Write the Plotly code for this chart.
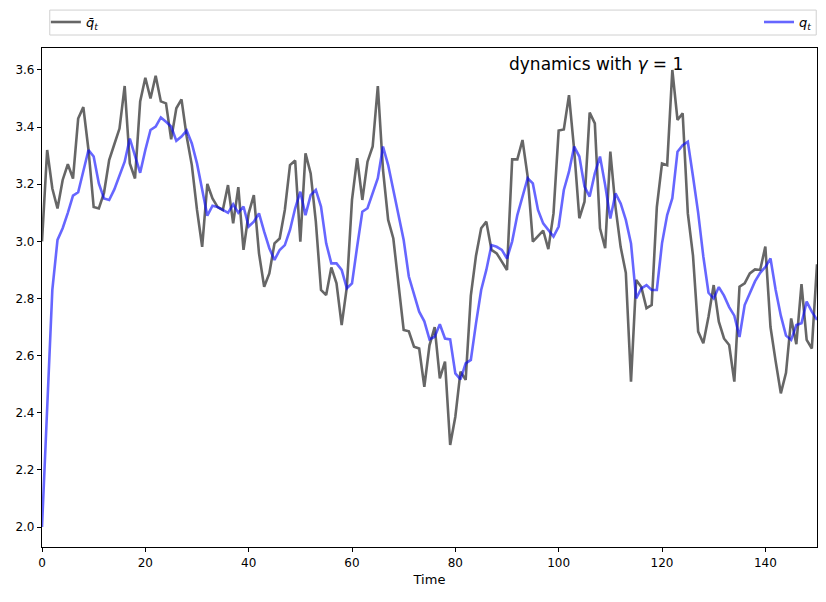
import plotly.graph_objects as go

time = list(range(151))

qbar = [3.00, 3.32, 3.185, 3.115, 3.215, 3.27, 3.22, 3.43, 3.47, 3.32,
        3.12, 3.115, 3.17, 3.285, 3.34, 3.395, 3.544, 3.273, 3.22, 3.49,
        3.573, 3.50, 3.58, 3.49, 3.483, 3.357, 3.466, 3.497, 3.367, 3.267,
        3.11, 2.981, 3.201, 3.15, 3.12, 3.11, 3.197, 3.063, 3.19, 2.97,
        3.098, 3.162, 2.958, 2.841, 2.888, 2.993, 3.01, 3.11, 3.267, 3.283,
        2.999, 3.308, 3.238, 3.069, 2.83, 2.812, 2.909, 2.853, 2.707, 2.84,
        3.145, 3.291, 3.145, 3.279, 3.332, 3.544, 3.25, 3.075, 3.01, 2.84,
        2.69, 2.685, 2.631, 2.625, 2.491, 2.636, 2.70, 2.52, 2.579, 2.287,
        2.386, 2.544, 2.515, 2.81, 2.95, 3.046, 3.069, 2.97, 2.958, 2.929,
        2.90, 3.287, 3.287, 3.355, 3.227, 2.999, 3.017, 3.038, 2.973, 3.098,
        3.388, 3.392, 3.512, 3.32, 3.081, 3.139, 3.451, 3.413, 3.046, 2.976,
        3.314, 3.12, 2.98, 2.89, 2.509, 2.865, 2.84, 2.766, 2.777, 3.12,
        3.273, 3.267, 3.60, 3.425, 3.448, 3.098, 2.95, 2.684, 2.643, 2.736,
        2.847, 2.719, 2.66, 2.637, 2.509, 2.841, 2.853, 2.888, 2.902, 2.90,
        2.982, 2.70, 2.58, 2.468, 2.54, 2.73, 2.64, 2.85, 2.655, 2.625,
        2.92]

q = [2.00, 2.43, 2.83, 3.005, 3.046, 3.10, 3.16, 3.172, 3.244, 3.32,
     3.297, 3.203, 3.15, 3.145, 3.182, 3.232, 3.279, 3.36, 3.302, 3.24,
     3.32, 3.39, 3.402, 3.434, 3.419, 3.402, 3.352, 3.367, 3.388, 3.343,
     3.273, 3.18, 3.09, 3.125, 3.12, 3.11, 3.10, 3.13, 3.10, 3.122,
     3.052, 3.069, 3.098, 3.034, 2.976, 2.935, 2.97, 2.987, 3.04, 3.116,
     3.174, 3.092, 3.162, 3.18, 3.122, 2.993, 2.923, 2.923, 2.90, 2.836,
     2.853, 2.982, 3.104, 3.116, 3.168, 3.221, 3.332, 3.267, 3.18, 3.098,
     3.005, 2.877, 2.812, 2.754, 2.72, 2.657, 2.666, 2.71, 2.66, 2.657,
     2.538, 2.517, 2.573, 2.585, 2.713, 2.83, 2.90, 2.987, 2.981, 2.97,
     2.94, 3.0, 3.092, 3.157, 3.221, 3.203, 3.11, 3.063, 3.04, 3.017,
     3.052, 3.18, 3.244, 3.332, 3.297, 3.192, 3.157, 3.238, 3.297, 3.197,
     3.08, 3.168, 3.133, 3.075, 2.993, 2.80, 2.835, 2.847, 2.83, 2.83,
     2.993, 3.092, 3.151, 3.314, 3.337, 3.349, 3.227, 3.10, 2.947, 2.82,
     2.80, 2.84, 2.81, 2.77, 2.74, 2.665, 2.777, 2.82, 2.86, 2.89,
     2.91, 2.94, 2.83, 2.74, 2.67, 2.655, 2.707, 2.713, 2.789, 2.754,
     2.725]

x_ticks = [0, 20, 40, 60, 80, 100, 120, 140]
y_ticks = [2.0, 2.2, 2.4, 2.6, 2.8, 3.0, 3.2, 3.4, 3.6]

font = "DejaVu Sans"

fig = go.Figure()
fig.add_trace(go.Scatter(x=time, y=qbar, mode="lines",
                         name="<i>q̄</i><sub><i>t</i></sub>",
                         line=dict(color="rgba(0,0,0,0.6)", width=2.6),
                         legend="legend"))
fig.add_trace(go.Scatter(x=time, y=q, mode="lines",
                         name="<i>q</i><sub><i>t</i></sub>",
                         line=dict(color="rgba(0,0,255,0.6)", width=2.6),
                         legend="legend2"))

axis_common = dict(showgrid=False, zeroline=False, showline=True, linecolor="black",
                   linewidth=1.2, mirror=True, ticks="outside", ticklen=4,
                   tickcolor="black", tickfont=dict(family=font, size=12, color="black"))

fig.update_layout(
    width=826, height=602,
    margin=dict(l=42, r=9, t=48, b=55, autoexpand=False),
    paper_bgcolor="white", plot_bgcolor="white",
    font=dict(family=font, color="black"),
    xaxis=dict(range=[0, 150], tickvals=x_ticks,
               title=dict(text="Time", font=dict(family=font, size=13), standoff=6),
               **axis_common),
    yaxis=dict(range=[1.93, 3.677], tickvals=y_ticks, tickformat=".1f", **axis_common),
    legend=dict(orientation="h", x=0.005, y=1.052, xanchor="left", yanchor="middle",
                bgcolor="rgba(0,0,0,0)", font=dict(family=font, size=13)),
    legend2=dict(orientation="h", x=1.0, y=1.052, xanchor="right", yanchor="middle",
                 bgcolor="rgba(0,0,0,0)", font=dict(family=font, size=13)),
    shapes=[dict(type="rect", xref="paper", yref="paper", x0=0.01, x1=0.999,
                 y0=1.026, y1=1.076, line=dict(color="#d0d0d0", width=1),
                 fillcolor="rgba(0,0,0,0)", layer="below")],
    annotations=[dict(text="dynamics with <i>γ</i> = 1", xref="paper", yref="paper",
                      x=0.6, y=0.968, xanchor="left", yanchor="middle", showarrow=False,
                      font=dict(family=font, size=17, color="black"))],
    showlegend=True,
)

fig.write_html("out.html")
